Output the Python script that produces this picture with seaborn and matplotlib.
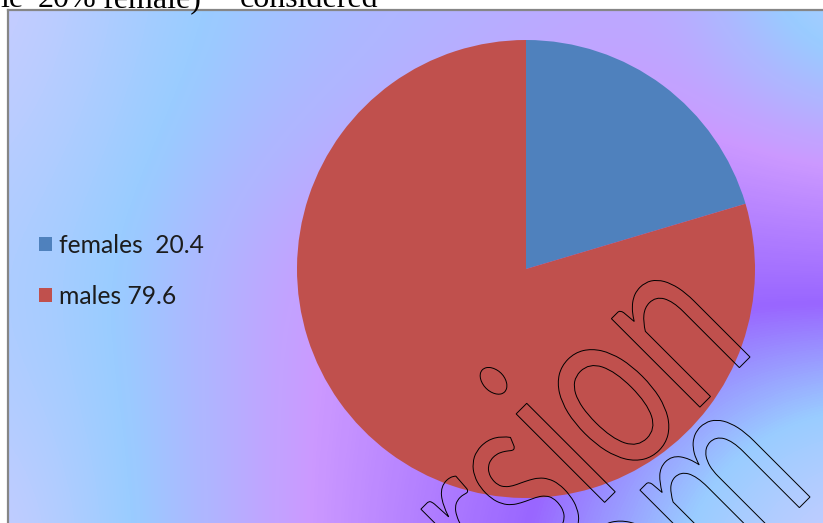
import numpy as np
import matplotlib
matplotlib.use("Agg")
import matplotlib.pyplot as plt
import matplotlib.transforms as mtransforms
import seaborn as sns
from matplotlib.colors import LinearSegmentedColormap
from matplotlib.textpath import TextPath
from matplotlib.patches import PathPatch
from matplotlib.font_manager import FontProperties

# pie data
labels = ["females  20.4", "males 79.6"]
shares = [20.4, 79.6]
slice_colors = ["#4F81BD", "#C0504D"]

# caption fragment above the chart (cut off by the crop)
caption_words = ["le", "20%", "female)", "considered"]
caption_x = [0, 38, 103, 240]

# chart-area fill: "calm water" style gradient, t sampled on a coarse grid
grad_stops = [(0.00, "#CCCCFF"), (0.18, "#99CCFF"), (0.39, "#CC99FF"),
              (0.64, "#9966FF"), (0.82, "#99CCFF"), (1.00, "#CCCCFF")]
grad_grid = np.array([
    [0.00, 0.14, 0.22, 0.27, 0.31, 0.33, 0.06],
    [0.05, 0.17, 0.27, 0.33, 0.38, 0.40, 0.33],
    [0.10, 0.21, 0.35, 0.45, 0.55, 0.60, 0.57],
    [0.08, 0.20, 0.36, 0.48, 0.60, 0.72, 0.81],
    [0.00, 0.20, 0.355, 0.516, 0.675, 0.83, 1.00],
])

W, H = 823, 523
sns.set_theme(style="white")
plt.rcParams["font.family"] = ["Lato", "DejaVu Sans"]

fig = plt.figure(figsize=(W / 100, H / 100), dpi=100)
fig.patch.set_facecolor("white")

# background axes in pixel coordinates (y down)
x0, y0 = 8, 10
bg = fig.add_axes([x0 / W, 0, (W - x0) / W, (H - y0) / H])
cmap = LinearSegmentedColormap.from_list("calm_water", grad_stops)
ny, nx = grad_grid.shape
dx = (W - x0) / (nx - 1)
dy = (H - y0) / (ny - 1)
bg.imshow(grad_grid, cmap=cmap, vmin=0, vmax=1, aspect="auto",
          interpolation="bicubic", interpolation_stage="data",
          extent=(x0 - dx / 2, W + dx / 2, H + dy / 2, y0 - dy / 2))
bg.set_xlim(x0, W)
bg.set_ylim(H, y0)
bg.set_xticks([])
bg.set_yticks([])
for side in ["right", "bottom"]:
    bg.spines[side].set_visible(False)
for side in ["left", "top"]:
    bg.spines[side].set_color("#868686")
    bg.spines[side].set_linewidth(1.6)

# pie, centre (526, 269) px, radius 229 px
cx, cy, r = 526, 269, 229
ax = fig.add_axes([(cx - r) / W, (H - cy - r) / H, 2 * r / W, 2 * r / H])
wedges, _ = ax.pie(shares, colors=slice_colors, startangle=90,
                   counterclock=False, wedgeprops={"linewidth": 0})
for w in wedges:
    w.set_clip_on(False)
ax.set_xlim(-1, 1)
ax.set_ylim(-1, 1)
ax.set_aspect("equal")
ax.axis("off")

fig.legend(wedges, labels, loc="upper left",
           bbox_to_anchor=(39 / W, 1 - 234 / H), bbox_transform=fig.transFigure,
           frameon=False, fontsize=17.7, handlelength=0.52, handleheight=0.52,
           handletextpad=0.3, labelspacing=1.12, borderpad=0, borderaxespad=0,
           labelcolor="#1c1c1c")

# caption text, only the lower part shows
for word, xp in zip(caption_words, caption_x):
    fig.text(xp / W, 1 - 7 / H, word, fontsize=23, color="black",
             family=["Liberation Serif"], ha="left", va="baseline")

# outlined evaluation watermark
wm_font = FontProperties(family="Lato")


def watermark(text, end_px, size=247, squeeze=0.68):
    path = TextPath((0, 0), text, size=size, prop=wm_font)
    xmax = path.get_extents().x1
    tr = (mtransforms.Affine2D().translate(-xmax, 0).scale(squeeze, 1)
          .rotate_deg(45).translate(end_px[0], H - end_px[1]))
    fig.add_artist(PathPatch(path, transform=tr, facecolor="none",
                             edgecolor="black", linewidth=0.7))


watermark("rsion", (750, 357))
watermark("om", (810, 497))

fig.savefig("out.png", dpi=100)
